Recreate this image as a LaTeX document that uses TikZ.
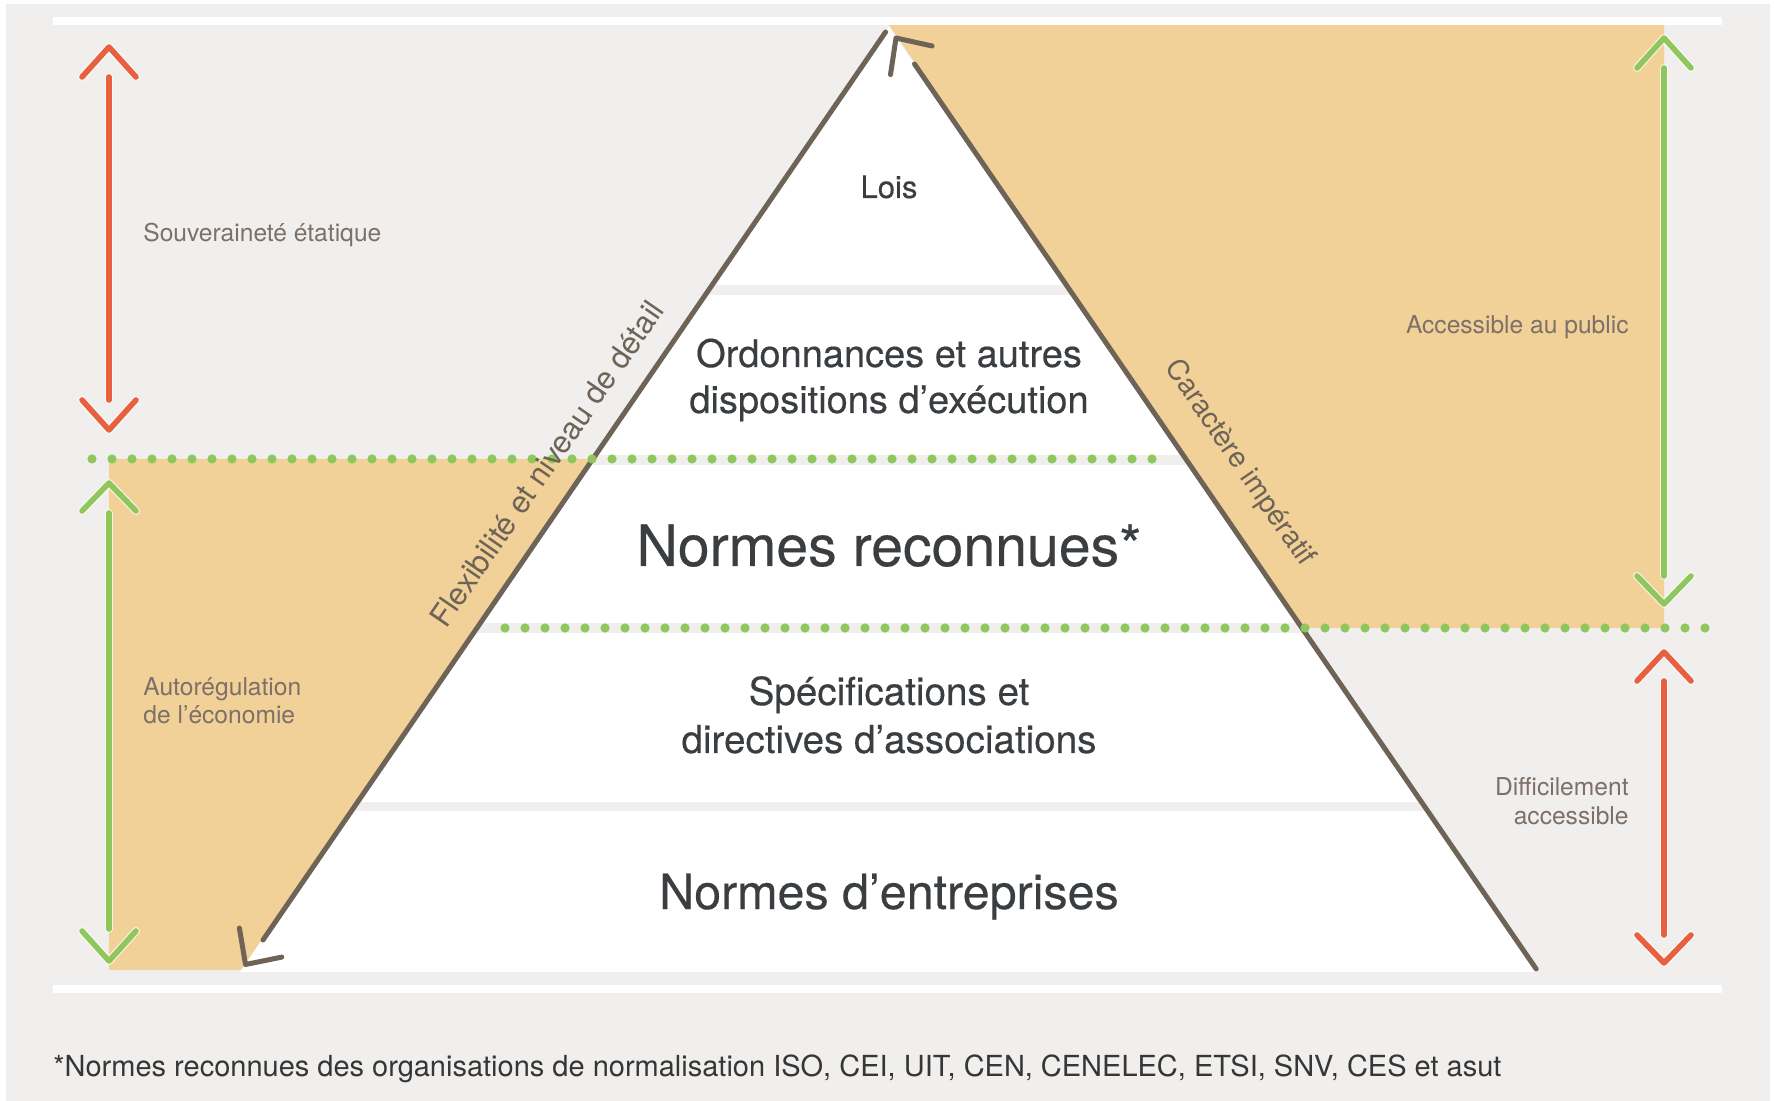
\documentclass[tikz,border=0pt]{standalone}
\usepackage{fontspec}
\setmainfont{TeX Gyre Heros}
\newfontfamily\pyrfont[FakeBold=0.35]{TeX Gyre Heros}
\definecolor{bggrey}{HTML}{F0EFED}
\definecolor{peach}{HTML}{F2D199}
\definecolor{redc}{HTML}{E9603F}
\definecolor{greenc}{HTML}{8FC75C}
\definecolor{brownc}{HTML}{6E6357}
\definecolor{txtdark}{HTML}{3B3E40}
\definecolor{txtside}{HTML}{7D7068}
\definecolor{txtfoot}{HTML}{363636}
\begin{document}
\begin{tikzpicture}[x=0.5pt,y=-0.5pt,
  brownline/.style={draw=brownc, line width=2.5pt, line cap=round, line join=round},
  halo/.style={draw=white, line width=4pt, line cap=round, line join=round, opacity=0.7},
  redarr/.style={draw=redc, line width=2.8pt, line cap=round, line join=round},
  greenarr/.style={draw=greenc, line width=2.8pt, line cap=round, line join=round},
  dotline/.style={draw=greenc, line width=4.6pt, line cap=round, dash pattern=on 0pt off 10pt},
  pyr/.style={text=txtdark, inner sep=0pt, anchor=base},
  side/.style={text=txtside, inner sep=0pt, font=\fontsize{12.3}{15}\selectfont},
  rotlabel/.style={text=brownc, inner sep=0pt, anchor=base}]
\useasboundingbox (0,0) rectangle (1774,1101);
\fill[white] (0,0) rectangle (1774,1101);
\fill[bggrey] (6,4) rectangle (1770,1101);
% peach areas
\fill[peach] (109,459) -- (592.2,459) -- (241.2,970) -- (109,970) -- cycle;
\fill[peach] (889,25) -- (1664,25) -- (1664,628) -- (1301.9,628) -- cycle;
% pyramid layers
\begin{scope}
  \clip (889,27) -- (1538.2,972) -- (239.8,972) -- cycle;
  \fill[white] (200,20) rectangle (1600,285);
  \fill[white] (200,295) rectangle (1600,455);
  \fill[white] (200,465) rectangle (1600,623);
  \fill[white] (200,633) rectangle (1600,802);
  \fill[white] (200,811) rectangle (1600,972);
\end{scope}
% white rules
\fill[white] (53,17) rectangle (1722,25.5);
\fill[white] (53,984.5) rectangle (1722,992.5);
% pyramid sides with open arrow heads
\draw[brownline] (885.6,32) -- (263,940);
\draw[brownline] (239.4,928) -- (245.5,964.5) -- (281.8,957.1);
\draw[brownline] (914.5,64) -- (1536.2,969);
\draw[brownline] (932.1,46) -- (896,38) -- (890.5,74.6);
% dotted separators
\draw[dotline] (92,459) -- (1153,459);
\draw[dotline] (505,628) -- (1706,628);
% left red arrow
\foreach \s in {halo,redarr}{
  \draw[\s] (82,77) -- (109,47) -- (136,77);
  \draw[\s] (109,77) -- (109,400);
  \draw[\s] (82,400) -- (109,430) -- (136,400);
}
% left green arrow
\foreach \s in {halo,greenarr}{
  \draw[\s] (82,511) -- (109,483) -- (136,511);
  \draw[\s] (109,513) -- (109,929);
  \draw[\s] (82,931) -- (109,961) -- (136,931);
}
% right green arrow
\foreach \s in {halo,greenarr}{
  \draw[\s] (1637,68) -- (1664,38) -- (1691,68);
  \draw[\s] (1664,68) -- (1664,576);
  \draw[\s] (1637,576) -- (1664,604) -- (1691,576);
}
% right red arrow
\foreach \s in {halo,redarr}{
  \draw[\s] (1637,681) -- (1664,652) -- (1691,681);
  \draw[\s] (1664,681) -- (1664,935);
  \draw[\s] (1637,935) -- (1664,963) -- (1691,935);
}
% pyramid texts
\node[pyr, font=\pyrfont\fontsize{15.5}{18}\selectfont] (lois) at (889,198) {Lois};
\node[pyr, font=\pyrfont\fontsize{19}{22}\selectfont] (ordo1) at (889,367) {Ordonnances et autres};
\node[pyr, font=\pyrfont\fontsize{19}{22}\selectfont] (ordo2) at (889,413) {dispositions d’exécution};
\node[pyr, font=\pyrfont\fontsize{28.6}{32}\selectfont] (nrec) at (889,566) {Normes reconnues*};
\node[pyr, font=\pyrfont\fontsize{19.3}{22}\selectfont] (spec1) at (889,705) {Spécifications et};
\node[pyr, font=\pyrfont\fontsize{19.3}{22}\selectfont] (spec2) at (889,753) {directives d’associations};
\node[pyr, font=\pyrfont\fontsize{24.2}{28}\selectfont] (nent) at (889,909) {Normes d’entreprises};
% side labels
\node[side, anchor=base west] (souv) at (143,242) {Souveraineté étatique};
\node[side, anchor=base east] (acc) at (1629,334) {Accessible au public};
\node[side, anchor=base west] (auto1) at (143,696) {Autorégulation};
\node[side, anchor=base west] (auto2) at (143,724) {de l’économie};
\node[side, anchor=base east] (diff1) at (1629,795) {Difficilement};
\node[side, anchor=base east] (diff2) at (1629,824) {accessible};
% rotated labels
\node[rotlabel, rotate=55.5, font=\fontsize{15.5}{18}\selectfont] (flex) at (555.6,470) {Flexibilité et niveau de détail};
\node[rotlabel, rotate=-55.5, font=\fontsize{14.3}{17}\selectfont] (carac) at (1233,467.6) {Caractère impératif};
% footnote
\node[text=txtfoot, inner sep=0pt, anchor=base west, font=\fontsize{14.5}{17}\selectfont] (foot) at (53,1076)
  {*Normes reconnues des organisations de normalisation ISO, CEI, UIT, CEN, CENELEC, ETSI, SNV, CES et asut};
\end{tikzpicture}
\end{document}
